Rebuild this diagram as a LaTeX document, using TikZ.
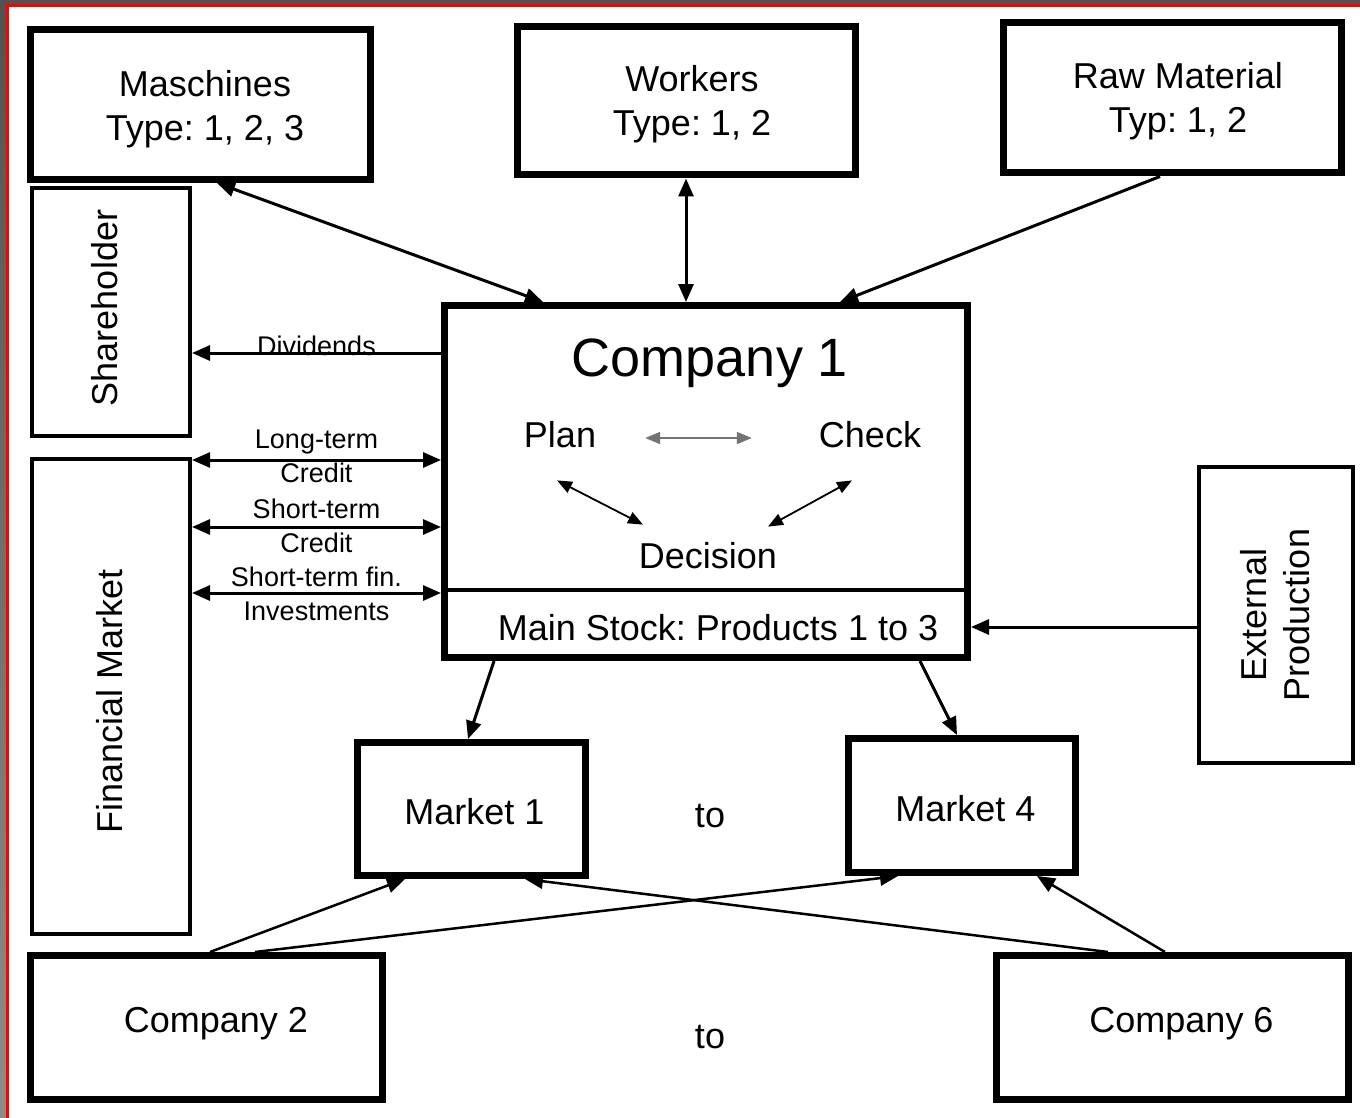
\documentclass[tikz,border=0pt]{standalone}
\usepackage{fontspec}
\setmainfont{Liberation Sans}
\usetikzlibrary{arrows.meta}
\newcommand\mfs{\fontsize{36}{44}\selectfont}
\frenchspacing
\begin{document}
\begin{tikzpicture}[x=1pt,y=-1pt,
  bigbox/.style={draw, line width=7pt, inner sep=0pt},
  thinbox/.style={draw, line width=4pt, inner sep=0pt},
  lbl/.style={inner sep=0pt, align=center, font=\mfs},
  sidelbl/.style={inner sep=0pt, align=center, font=\fontsize{27}{34}\selectfont},
  onearrow/.style={line width=3pt, -{Triangle[length=18pt,width=15pt]}},
  botharrow/.style={line width=3pt, {Triangle[length=18pt,width=15pt]}-{Triangle[length=18pt,width=15pt]}},
  crossarrow/.style={line width=2.5pt, -{Triangle[length=18pt,width=15pt]}},
  innerarrow/.style={line width=1.8pt, {Triangle[length=15pt,width=12pt]}-{Triangle[length=15pt,width=12pt]}}
]
\fill[white] (0,0) rectangle (1360,1118);
\useasboundingbox (0,0) rectangle (1360,1118);
% screenshot frame
\fill[black!68] (0,0) rectangle (1360,4);
\shade[top color=black!68, bottom color=black!45] (0,0) rectangle (6,1118);
\fill[red] (6,4) rectangle (1360,7);
\fill[red] (6,4) rectangle (9,1118);

% top boxes
\node[bigbox, minimum width=340pt, minimum height=150pt] (mach) at (200,104.5) {};
\node[lbl] (machtxt) at (205,109) {Maschines\\Type: 1, 2, 3};
\node[bigbox, minimum width=338pt, minimum height=148pt] (work) at (686,101) {};
\node[lbl] (worktxt) at (692,104.5) {Workers\\Type: 1, 2};
\node[bigbox, minimum width=338pt, minimum height=150pt] (raw) at (1172,98) {};
\node[lbl] (rawtxt) at (1178,101.5) {Raw Material\\Typ: 1, 2};

% side boxes
\node[thinbox, minimum width=158pt, minimum height=248pt] (share) at (111,312) {};
\node[lbl, rotate=90] (sharetxt) at (105,308) {Shareholder};
\node[thinbox, minimum width=158pt, minimum height=475pt] (fin) at (111,696.5) {};
\node[lbl, rotate=90] (fintxt) at (110,701) {Financial Market};
\node[thinbox, minimum width=154pt, minimum height=296pt] (ext) at (1276,615) {};
\node[lbl, rotate=90, font=\fontsize{36}{43}\selectfont] (exttxt) at (1275,615) {External\\Production};

% company 1
\node[bigbox, minimum width=523pt, minimum height=352pt] (comp1) at (706,481.5) {};
\node[inner sep=0pt, font=\fontsize{54}{60}\selectfont] (c1title) at (710,363) {Company 1};
\node[lbl] (plan) at (560,435) {Plan};
\node[lbl] (check) at (870,435) {Check};
\node[lbl] (dec) at (708,556) {Decision};
\node[lbl] (stock) at (718,628) {Main Stock: Products 1 to 3};
\draw[line width=3.5pt] (comp1.west |- 0,590) -- (comp1.east |- 0,590);

% markets and other companies
\node[bigbox, minimum width=228pt, minimum height=133pt] (m1) at (471.5,809) {};
\node[lbl] (m1txt) at (474.5,812) {Market 1};
\node[bigbox, minimum width=227pt, minimum height=134pt] (m4) at (962,805.5) {};
\node[lbl] (m4txt) at (965.5,808.5) {Market 4};
\node[lbl] (to1) at (710,816) {to};
\node[bigbox, minimum width=352pt, minimum height=144pt] (c2) at (206.5,1027.5) {};
\node[lbl] (c2txt) at (216,1023.5) {Company 2};
\node[bigbox, minimum width=352pt, minimum height=144pt] (c6) at (1172.5,1027.5) {};
\node[lbl] (c6txt) at (1181.5,1023.5) {Company 6};
\node[lbl] (to2) at (710,1037) {to};

% connectors top
\draw[botharrow] (mach.south -| 217,0) -- (comp1.north -| 543,0);
\draw[botharrow] (work.south) -- (comp1.north -| work.south);
\draw[onearrow] (raw.south -| 1160,0) -- (comp1.north -| 840,0);

% left connectors
\draw[onearrow] (comp1.west |- 0,353) -- (share.east |- 0,353)
  node[midway, anchor=base, inner sep=0pt, yshift=-2pt, font=\fontsize{27}{34}\selectfont] {Dividends};
\draw[botharrow] (fin.east |- 0,460) -- (comp1.west |- 0,460)
  node[sidelbl, midway, yshift=3.5pt] {Long-term\\Credit};
\draw[botharrow] (fin.east |- 0,527) -- (comp1.west |- 0,527)
  node[sidelbl, midway, yshift=1.5pt] {Short-term\\Credit};
\draw[botharrow] (fin.east |- 0,593) -- (comp1.west |- 0,593)
  node[sidelbl, midway, yshift=-1pt] {Short-term fin.\\Investments};

% right connector
\draw[onearrow] (ext.west |- 0,627) -- (comp1.east |- 0,627);

% to markets
\draw[onearrow] (comp1.south -| 494,0) -- (m1.north -| 468,0);
\draw[onearrow] (comp1.south -| 920,0) -- (m4.north -| 957,0);
\draw[crossarrow] (c2.north -| 210,0) -- (m1.south -| 405,0);
\draw[crossarrow] (c2.north -| 255,0) -- (m4.south -| 898,0);
\draw[crossarrow] (c6.north -| 1108,0) -- (m1.south -| 525,0);
\draw[crossarrow] (c6.north -| 1165,0) -- (m4.south -| 1037,0);

% inner cycle
\draw[innerarrow, draw=black!55] ([shift={(49,3)}]plan.east) -- ([shift={(-67,3)}]check.west);
\draw[innerarrow] ([shift={(-3,32)}]plan.south) -- ([shift={(-65,-18)}]dec.north);
\draw[innerarrow] ([shift={(-18,32)}]check.south) -- ([shift={(60,-16)}]dec.north);
\end{tikzpicture}
\end{document}
